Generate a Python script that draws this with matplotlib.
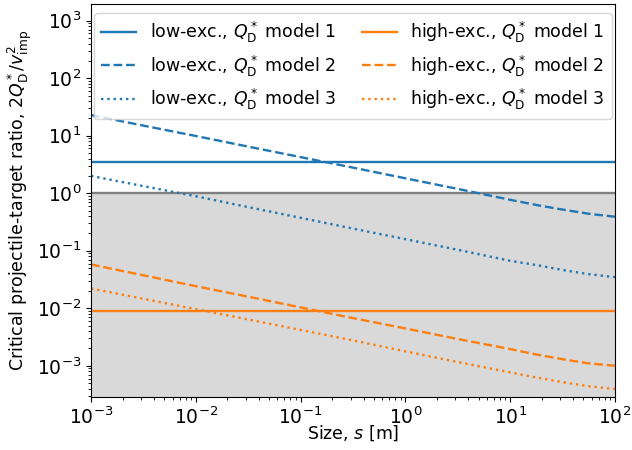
import numpy as np
import matplotlib
matplotlib.use('Agg')
import matplotlib.pyplot as plt

# size grid (m): half-decade steps, quarter-decade steps near the gravity turnover
size = [1e-3, 10**-2.5, 1e-2, 10**-1.5, 1e-1, 10**-0.5, 1.0, 10**0.5, 1e1,
        10**1.25, 10**1.5, 10**1.75, 1e2]

# critical ratio 2 Q_D* / v_imp^2
low_m1 = 3.55
low_m2 = [22.9, 15.0, 9.9, 6.47, 4.25, 2.79, 1.82, 1.19, 0.77,
          0.625, 0.52, 0.44, 0.39]
low_m3 = [2.0, 1.33, 0.887, 0.574, 0.374, 0.243, 0.159, 0.104, 0.0668,
          0.0565, 0.0463, 0.0392, 0.0347]

high_m1 = 0.0089
high_m2 = [0.0577, 0.0374, 0.0242, 0.0159, 0.01035, 0.00674, 0.00446, 0.00292, 0.00195,
           0.00157, 0.0013, 0.0011, 0.001]
high_m3 = [0.0221, 0.0146, 0.00966, 0.00638, 0.0042, 0.00276, 0.00178, 0.00116, 0.000767,
           0.000625, 0.00052, 0.00044, 0.000394]

plt.rcParams['font.size'] = 12.5
plt.rcParams['xtick.labelsize'] = 13.5
plt.rcParams['ytick.labelsize'] = 13.5

fig = plt.figure(figsize=(6.32, 4.5), dpi=100)
ax = fig.add_axes([0.144, 0.1185, 0.829, 0.8725])

ymin, ymax = 2.9e-4, 1.95e3
ax.axhspan(ymin, 1.0, color='0.85', lw=0)
ax.axhline(1.0, color='grey', lw=1.7)

lw = 1.7
qd = r'$Q_\mathrm{D}^*$'
ax.plot([size[0], size[-1]], [low_m1, low_m1], '-', color='C0', lw=lw, label='low-exc., %s model 1' % qd)
ax.plot(size, low_m2, '--', color='C0', lw=lw, label='low-exc., %s model 2' % qd)
ax.plot(size, low_m3, ':', color='C0', lw=lw, label='low-exc., %s model 3' % qd)
ax.plot([size[0], size[-1]], [high_m1, high_m1], '-', color='C1', lw=lw, label='high-exc., %s model 1' % qd)
ax.plot(size, high_m2, '--', color='C1', lw=lw, label='high-exc., %s model 2' % qd)
ax.plot(size, high_m3, ':', color='C1', lw=lw, label='high-exc., %s model 3' % qd)

ax.set_xscale('log')
ax.set_yscale('log')
ax.set_xlim(1e-3, 1e2)
ax.set_ylim(ymin, ymax)
ax.set_xlabel(r'Size, $s$ [m]', labelpad=-3)
ax.set_ylabel(r'Critical projectile-target ratio, $2Q_\mathrm{D}^*/v_\mathrm{imp}^2$', labelpad=2)
ax.legend(ncol=2, loc='upper center', handlelength=2.0, columnspacing=1.5)

fig.savefig('out.png', dpi=100)
